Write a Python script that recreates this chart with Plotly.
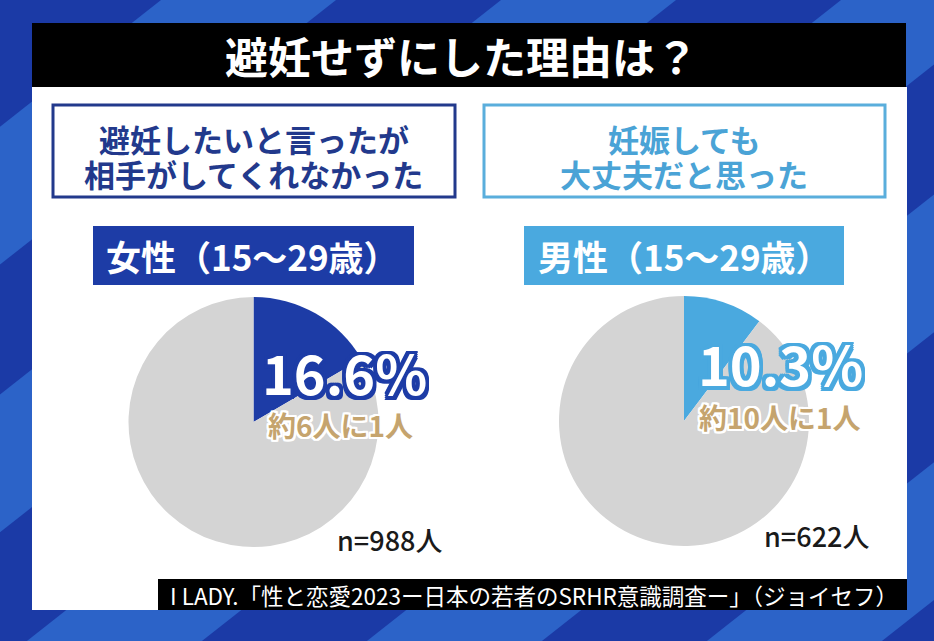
import plotly.graph_objects as go

W, H = 934, 641

# ---- data ----
title_text = "避妊せずにした理由は？"
reason_lines_f = ["避妊したいと言ったが", "相手がしてくれなかった"]
reason_lines_m = ["妊娠しても", "大丈夫だと思った"]
group_labels = ["女性（15～29歳）", "男性（15～29歳）"]
pct_values = [16.6, 10.3]
ratio_texts = ["約6人に1人", "約10人に1人"]
sample_sizes = [988, 622]
source_text = "I LADY.「性と恋愛2023ー日本の若者のSRHR意識調査ー」（ジョイセフ）"

DARK = "#1d3ca6"
LIGHT = "#4aa9df"
GRAY = "#d4d4d4"
TAN = "#c5a46e"
BG_DARK = "#1b3aa6"
BG_LIGHT = "#2c63c8"
FONT = "Noto Sans CJK JP"

fig = go.Figure()
fig.add_trace(go.Scatter(x=[], y=[], showlegend=False, hoverinfo="skip"))

shapes = []
# diagonal background stripes
k = 1.27 * H
for a in [161 - 340, 161, 501, 841, 1181, 1521]:
    shapes.append(dict(type="path", layer="below", xref="x", yref="y",
                       path=f"M {a},0 L {a+175},0 L {a+175-k},{H} L {a-k},{H} Z",
                       fillcolor=BG_LIGHT, line=dict(width=0)))
# white panel
shapes.append(dict(type="rect", layer="below", xref="x", yref="y", x0=32, x1=907, y0=87, y1=610,
                   fillcolor="white", line=dict(width=0)))
# title bar
shapes.append(dict(type="rect", layer="below", xref="x", yref="y", x0=32, x1=906, y0=23, y1=87,
                   fillcolor="black", line=dict(width=0)))
# reason boxes
shapes.append(dict(type="rect", layer="below", xref="x", yref="y", x0=53, x1=455, y0=105, y1=197,
                   fillcolor="white", line=dict(color="#22398c", width=3)))
shapes.append(dict(type="rect", layer="below", xref="x", yref="y", x0=484, x1=885, y0=105, y1=197,
                   fillcolor="white", line=dict(color="#5aaedc", width=3)))
# group label bars
shapes.append(dict(type="rect", layer="below", xref="x", yref="y", x0=93, x1=414, y0=226, y1=285,
                   fillcolor=DARK, line=dict(width=0)))
shapes.append(dict(type="rect", layer="below", xref="x", yref="y", x0=524, x1=844, y0=226, y1=285,
                   fillcolor=LIGHT, line=dict(width=0)))
# source bar
shapes.append(dict(type="rect", layer="below", xref="x", yref="y", x0=158, x1=907, y0=579, y1=610,
                   fillcolor="black", line=dict(width=0)))

# pies
centers = [(253.5, 422), (684, 421)]
R = 125
slice_colors = [DARK, LIGHT]
for (cx, cy), v, col in zip(centers, pct_values, slice_colors):
    fig.add_trace(go.Pie(
        values=[v, 100 - v], labels=["該当", "その他"], sort=False, direction="clockwise",
        rotation=0, marker=dict(colors=[col, GRAY], line=dict(width=0)),
        textinfo="none", hoverinfo="skip", showlegend=False,
        domain=dict(x=[(cx - R) / W, (cx + R) / W], y=[(H - cy - R) / H, (H - cy + R) / H]),
    ))

def outline(color, w):
    offs = [(w, 0), (-w, 0), (0, w), (0, -w), (w, w), (-w, w), (w, -w), (-w, -w),
            (w, w / 2), (-w, w / 2), (w, -w / 2), (-w, -w / 2),
            (w / 2, w), (-w / 2, w), (w / 2, -w), (-w / 2, -w)]
    return ", ".join(f"{dx}px {dy}px 0px {color}" for dx, dy in offs)

ann = []
def text(x, y, s, size, color, weight="bold", shadow=None, family=FONT):
    f = dict(family=family, size=size, color=color, weight=weight)
    if shadow:
        f["shadow"] = shadow
    ann.append(dict(x=x, y=y, xref="x", yref="y", text=s, showarrow=False,
                    xanchor="center", yanchor="middle", font=f))

text(461, 55, title_text, 43, "white")
text(253.5, 138, reason_lines_f[0], 31, "#22398c")
text(253.5, 173, reason_lines_f[1], 31, "#22398c")
text(684, 138, reason_lines_m[0], 31, "#4aa3d6")
text(684, 173, reason_lines_m[1], 31, "#4aa3d6")
text(252, 255, group_labels[0], 35, "white")
text(684, 255, group_labels[1], 35, "white")

pct_pos = [(344, 371), (780, 362)]
ratio_pos = [(340, 425), (780, 417)]
for i in range(2):
    text(pct_pos[i][0], pct_pos[i][1], f"{pct_values[i]}%", 54, "white",
         shadow=outline(slice_colors[i], 3.5))
    text(ratio_pos[i][0], ratio_pos[i][1], ratio_texts[i], 28, TAN,
         shadow=outline("white", 2))

n_pos = [(389, 539), (816, 535)]
for i in range(2):
    text(n_pos[i][0], n_pos[i][1], f"n={sample_sizes[i]}人", 27, "#1a1a1a", weight=500)

text(534, 595, source_text, 22.5, "white", weight=400)

fig.update_layout(
    width=W, height=H, margin=dict(l=0, r=0, t=0, b=0),
    paper_bgcolor=BG_DARK, plot_bgcolor="rgba(0,0,0,0)",
    xaxis=dict(range=[0, W], visible=False, fixedrange=True),
    yaxis=dict(range=[H, 0], visible=False, fixedrange=True),
    shapes=shapes, annotations=ann, showlegend=False,
)
fig.write_html("out.html", config={"displayModeBar": False},
               post_script="document.body.style.margin='0';")
